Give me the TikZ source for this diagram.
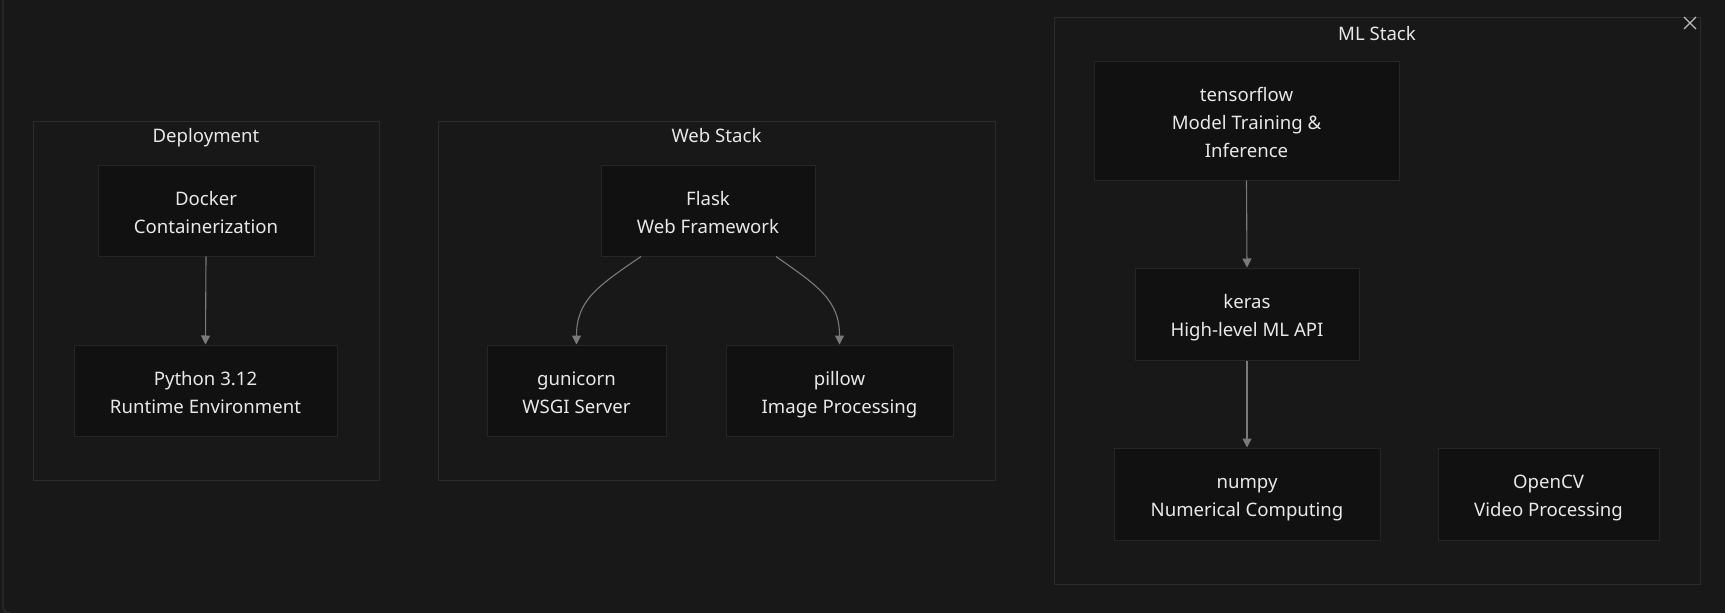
\documentclass[tikz,border=0pt]{standalone}
\usepackage{fontspec}
\setmainfont{Noto Sans}
\usetikzlibrary{arrows.meta,calc}
\definecolor{bg}{HTML}{181818}
\definecolor{clusterline}{HTML}{2C2C2C}
\definecolor{nodefill}{HTML}{111111}
\definecolor{nodeline}{HTML}{262626}
\definecolor{txt}{HTML}{E8E8E8}
\definecolor{arrowc}{HTML}{7A7A7A}
\definecolor{frame}{HTML}{2E2E2E}
\newcommand\topstrut{\rule{0pt}{26pt}}
\tikzset{
  cluster/.style={draw=clusterline, line width=1pt, fill=bg, inner sep=0pt},
  title/.style={text=txt, font=\fontsize{18.6}{28}\selectfont, inner sep=0pt},
  box/.style={draw=nodeline, line width=1pt, fill=nodefill, inner sep=0pt, align=center,
    text=txt, font=\fontsize{18.6}{28}\selectfont},
  link/.style={draw=arrowc, line width=1.1pt, -{Triangle[length=9pt,width=9pt]}},
}
\begin{document}
\begin{tikzpicture}[x=1pt,y=-1pt]
\useasboundingbox (0,0) rectangle (1725,613);
\fill[bg] (0,0) rectangle (1725,613);
\draw[frame, line width=1.2pt] (3,0) -- (3,605) .. controls (3,611) and (5,613) .. (10,613);
% clusters
\node[cluster, minimum width=346pt, minimum height=359pt] (depc) at (206,300.5) {};
\node[title] (dept) at (206,137) {\strut Deployment};
\node[cluster, minimum width=557pt, minimum height=359pt] (webc) at (716.5,300.5) {};
\node[title] (webt) at (716.5,137) {\strut Web Stack};
\node[cluster, minimum width=646pt, minimum height=567pt] (mlc) at (1377,300.5) {};
\node[title] (mlt) at (1377,34.5) {\strut ML Stack};
% close icon
\draw[txt!80!black, line width=1.1pt] (1684,17) -- (1696,29) (1696,17) -- (1684,29);
% nodes
\node[box, minimum width=216pt, minimum height=91pt] (docker) at (206,210.5) {\topstrut Docker\\Containerization\strut};
\node[box, minimum width=263pt, minimum height=91pt] (python) at (205.5,390.5) {\topstrut Python 3.12\\Runtime Environment\strut};
\node[box, minimum width=214pt, minimum height=91pt] (flask) at (708,210.5) {\topstrut Flask\\Web Framework\strut};
\node[box, minimum width=179pt, minimum height=91pt] (gun) at (576.5,390.5) {\topstrut gunicorn\\WSGI Server\strut};
\node[box, minimum width=227pt, minimum height=91pt] (pillow) at (839.5,390.5) {\topstrut pillow\\Image Processing\strut};
\node[box, minimum width=305pt, minimum height=119pt] (tf) at (1246.5,120.5) {\topstrut tensorflow\\Model Training \&\\Inference\strut};
\node[box, minimum width=224pt, minimum height=92pt] (keras) at (1247,314) {\topstrut keras\\High-level ML API\strut};
\node[box, minimum width=266pt, minimum height=92pt] (numpy) at (1247,494) {\topstrut numpy\\Numerical Computing\strut};
\node[box, minimum width=221pt, minimum height=92pt] (opencv) at (1548.5,494) {\topstrut OpenCV\\Video Processing\strut};
% connectors
\draw[link] (docker.south) -- (python.north);
\draw[link] (tf.south) -- (keras.north);
\draw[link] (keras.south) -- (numpy.north);
\draw[link] ($(flask.south)+(-67,0)$) .. controls (598,286) and (576.5,300) .. (gun.north);
\draw[link] ($(flask.south)+(68,0)$) .. controls (818,286) and (839.5,300) .. (pillow.north);
\end{tikzpicture}
\end{document}
